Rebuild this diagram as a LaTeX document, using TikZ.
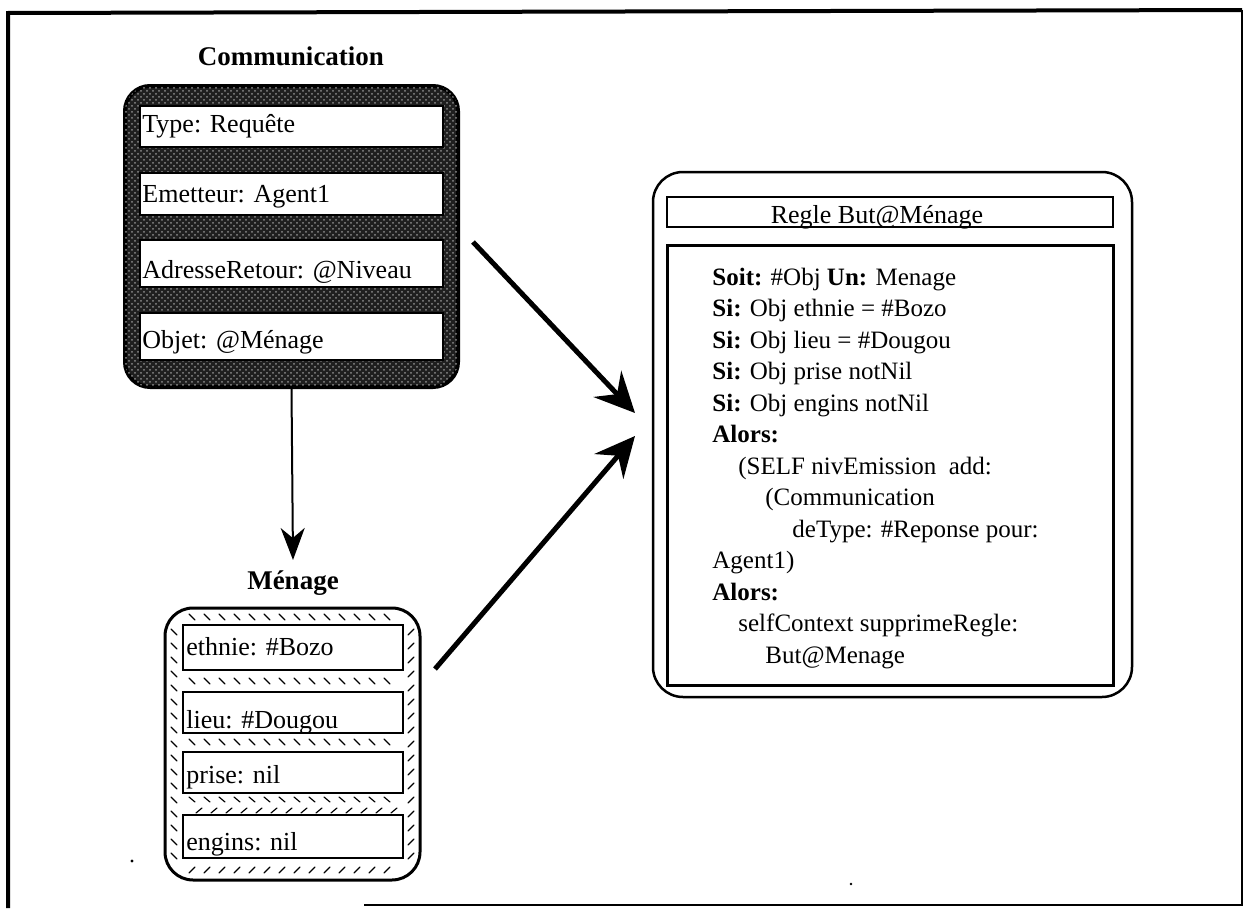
\documentclass[tikz,border=0pt]{standalone}
\usepackage{fontspec}
\setmainfont{Liberation Serif}
\usetikzlibrary{arrows.meta,patterns}
\begin{document}
\begin{tikzpicture}[x={(0.5pt,0)}, y={(0,-0.5pt)},
  txt/.style={inner sep=0pt, anchor=base west, font=\fontsize{13}{15}\selectfont},
  ttl/.style={inner sep=0pt, anchor=base, font=\fontsize{13.5}{15}\selectfont\bfseries},
  rtxt/.style={inner sep=0pt, anchor=base west, font=\fontsize{12.5}{15}\selectfont},
  cfld/.style={draw=black, line width=0.6pt, fill=white, inner sep=0pt, minimum width=151.5pt},
  mfld/.style={draw=black, line width=1.2pt, fill=white, inner sep=0pt, minimum width=110pt},
  bigarrow/.style={line width=2.5pt, -{Stealth[length=20pt, width=19pt, inset=7pt]}},
  smallarrow/.style={line width=1pt, -{Stealth[length=16pt, width=12pt, inset=5pt]}},
  tick/.style={line width=0.6pt, line cap=round}
]
\useasboundingbox (0,0) rectangle (1250,910);
% frame
\draw[line width=1.25pt] (364,905) -- (1242,905) -- (1242,10);
\draw[line width=2pt] (8,908) -- (8,13) -- (1242,10);

% ---------- Communication ----------
\node[ttl] (ctitle) at (291,65) {Communication};
\node[draw=black, line width=2pt, rounded corners=12.5pt, minimum width=166.5pt,
      minimum height=150.5pt, inner sep=0pt, fill=black!88,
      postaction={pattern=crosshatch dots, pattern color=black!45}] (comm) at (291.5,236.5) {};
\node[cfld, minimum height=20.5pt] (ctype) at (291.5,126.5) {};
\node[cfld, minimum height=21pt] (cemet) at (291.5,194) {};
\node[cfld, minimum height=23.5pt] (cadr) at (291.5,263.5) {};
\node[cfld, minimum height=23.5pt] (cobj) at (291.5,336.5) {};
\node[txt] (ttype) at (142,133) {Type: Requête};
\node[txt] (temet) at (142,202) {Emetteur: Agent1};
\node[txt] (tadr) at (142,278) {AdresseRetour: @Niveau};
\node[txt] (tobj) at (142,348) {Objet: @Ménage};

% ---------- Ménage ----------
\node[ttl] (mtitle) at (293,589) {Ménage};
\node[draw=black, line width=1.5pt, rounded corners=14pt, minimum width=127.5pt,
      minimum height=136pt, inner sep=0pt, fill=white] (menage) at (292.5,744) {};
% hatch ticks
\foreach \xx in {192,207,...,400} {
  \draw[tick] (\xx-3,614) -- (\xx+3,620);
  \draw[tick] (\xx-3,678) -- (\xx+3,684);
  \draw[tick] (\xx-3,739) -- (\xx+3,745);
  \draw[tick] (\xx-3,797) -- (\xx+3,802);
  \draw[tick] (\xx+4,813) -- (\xx+10,808);
  \draw[tick] (\xx-3,873) -- (\xx+3,867);
}
\foreach \yy in {632,646,...,860} {
  \draw[tick] (171,\yy-3) -- (177,\yy+3);
  \draw[tick] (408,\yy+3) -- (414,\yy-3);
}
\node[mfld, minimum height=22.5pt] (meth) at (293,647.5) {};
\node[mfld, minimum height=20.5pt] (mlieu) at (293,712.5) {};
\node[mfld, minimum height=20.5pt] (mprise) at (293,772.5) {};
\node[mfld, minimum height=21.5pt] (meng) at (293,836.5) {};
\node[txt] (teth) at (186,655) {ethnie: \#Bozo};
\node[txt] (tlieu) at (186,728) {lieu: \#Dougou};
\node[txt] (tprise) at (186,783) {prise: nil};
\node[txt] (teng) at (186,850) {engins: nil};

% ---------- Regle ----------
\node[draw=black, line width=1.25pt, rounded corners=15pt, minimum width=239.5pt,
      minimum height=262.5pt, inner sep=0pt] (regle) at (892.5,434.5) {};
\node[draw=black, line width=1pt, minimum width=223pt, minimum height=15pt, inner sep=0pt] (rhead) at (890,212) {};
\node[draw=black, line width=1.5pt, minimum width=223pt, minimum height=220pt, inner sep=0pt] (rbody) at (890,465) {};
\node[inner sep=0pt, anchor=base, font=\fontsize{13}{15}\selectfont] (thead) at (877,223) {Regle But@Ménage};
\node[rtxt] (r0) at (712,285) {\textbf{Soit:} \#Obj \textbf{Un:} Menage};
\node[rtxt] (r1) at (712,316.5) {\textbf{Si:} Obj ethnie = \#Bozo};
\node[rtxt] (r2) at (712,348) {\textbf{Si:} Obj lieu = \#Dougou};
\node[rtxt] (r3) at (712,379.5) {\textbf{Si:} Obj prise notNil};
\node[rtxt] (r4) at (712,411) {\textbf{Si:} Obj engins notNil};
\node[rtxt] (r5) at (712,442.5) {\textbf{Alors:}};
\node[rtxt] (r6) at (738,474) {(SELF nivEmission\ \ add:};
\node[rtxt] (r7) at (765,505.5) {(Communication};
\node[rtxt] (r8) at (792,537) {deType: \#Reponse pour:};
\node[rtxt] (r9) at (712,568.5) {Agent1)};
\node[rtxt] (r10) at (712,600) {\textbf{Alors:}};
\node[rtxt] (r11) at (738,631.5) {selfContext supprimeRegle:};
\node[rtxt] (r12) at (765,663) {But@Menage};

% ---------- connectors ----------
\coordinate (a1s) at (473,242);
\coordinate (a1e) at (635,413);
\coordinate (a2s) at (435,669);
\coordinate (a2e) at (635,436);
\coordinate (vtip) at (293,560);
\draw[bigarrow] (a1s) -- (a1e);
\draw[bigarrow] (a2s) -- (a2e);
\draw[smallarrow] (comm.south) -- (vtip);

% scan specks
\fill (132,861) circle (1.6);
\fill (851,884) circle (1.4);
\end{tikzpicture}
\end{document}
